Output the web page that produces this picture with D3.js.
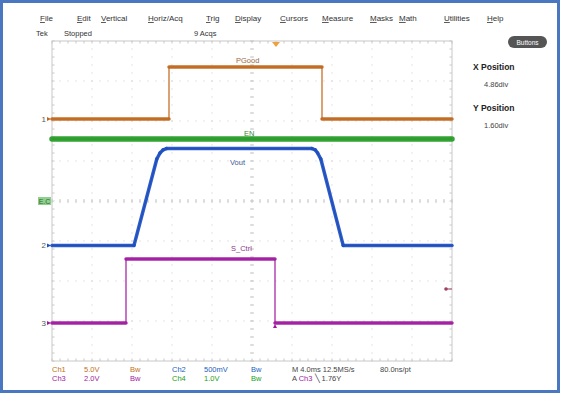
<!DOCTYPE html>
<html><head><meta charset="utf-8">
<script src="https://cdn.jsdelivr.net/npm/d3@7"></script>
<style>
html,body{margin:0;padding:0;background:#fff;}
svg{display:block;font-family:"Liberation Sans",Arial,sans-serif;}
</style></head>
<body>
<svg id="c" width="561" height="393"></svg>
<script>
// ---- data (time in divisions 0..10, level in divisions from screen centre) ----
const menuItems = ["File","Edit","Vertical","Horiz/Acq","Trig","Display","Cursors","Measure","Masks","Math","Utilities","Help"];
const menuX     = [40,77,101,148,206,235,280,322,370,399,444,487];

const ch1Time = [0, 2.925, 2.925, 6.75, 6.75, 10];       // PGood
const ch1Val  = [2.05, 2.05, 3.35, 3.35, 2.05, 2.05];
const ch4Time = [0, 10];                                  // EN
const ch4Val  = [1.55, 1.55];
const ch2Time = [0, 2.05, 2.62, 2.7, 2.78, 2.86, 6.5, 6.58, 6.64, 6.72, 7.28, 10]; // Vout
const ch2Val  = [-1.11, -1.11, 1.05, 1.2, 1.28, 1.31, 1.31, 1.28, 1.2, 1.05, -1.11, -1.11];
const ch3Time = [0, 1.85, 1.85, 5.575, 5.575, 10];       // S_Ctrl
const ch3Val  = [-3.05, -3.05, -1.45, -1.45, -3.05, -3.05];

const channelNames  = ["PGood","EN","Vout","S_Ctrl"];
const statusRow1 = [["Ch1",52,"#c07020"],["5.0V",84,"#c07020"],["Bw",130,"#c07020"],["Ch2",172,"#2060c0"],["500mV",204,"#2060c0"],["Bw",251,"#2060c0"],["M 4.0ms 12.5MS/s",292,"#444"],["80.0ns/pt",380,"#444"]];
const statusRow2 = [["Ch3",52,"#a020a0"],["2.0V",84,"#a020a0"],["Bw",130,"#a020a0"],["Ch4",172,"#20a020"],["1.0V",204,"#20a020"],["Bw",251,"#20a020"]];

// ---- layout ----
const svg = d3.select("#c");
const gx0 = 52, gx1 = 452, gy0 = 41, gy1 = 361;
const x = d3.scaleLinear().domain([0,10]).range([gx0,gx1]);
const y = d3.scaleLinear().domain([-4,4]).range([gy1,gy0]);
const gridCol = "#c8c8c8";

// frame
svg.append("rect").attr("x",1.5).attr("y",1.5).attr("width",557).attr("height",390)
  .attr("fill","#fff").attr("stroke","#4a78c0").attr("stroke-width",3);

// menu bar
menuItems.forEach((m,i)=>{
  const t = svg.append("text").attr("x",menuX[i]).attr("y",21).attr("font-size",8).attr("fill","#333");
  t.append("tspan").attr("text-decoration","underline").text(m[0]);
  t.append("tspan").text(m.slice(1));
});
svg.append("text").attr("x",36).attr("y",36).attr("font-size",7.5).attr("fill","#333").text("Tek");
svg.append("text").attr("x",64).attr("y",36).attr("font-size",7.5).attr("fill","#333").text("Stopped");
svg.append("text").attr("x",194).attr("y",36).attr("font-size",7.5).attr("fill","#333").text("9 Acqs");

// right panel
svg.append("rect").attr("x",508).attr("y",36).attr("width",39).attr("height",12).attr("rx",6)
  .attr("fill","#555");
svg.append("text").attr("x",527.5).attr("y",45).attr("text-anchor","middle").attr("font-size",6.5).attr("fill","#fff").text("Buttons");
svg.append("text").attr("x",473).attr("y",70).attr("font-size",8.5).attr("font-weight","bold").attr("fill","#222").text("X Position");
svg.append("text").attr("x",484).attr("y",87).attr("font-size",7.5).attr("fill","#444").text("4.86div");
svg.append("text").attr("x",473).attr("y",111).attr("font-size",8.5).attr("font-weight","bold").attr("fill","#222").text("Y Position");
svg.append("text").attr("x",484).attr("y",128).attr("font-size",7.5).attr("fill","#444").text("1.60div");

// graticule
const grid = svg.append("g");
grid.append("rect").attr("x",gx0).attr("y",gy0).attr("width",gx1-gx0).attr("height",gy1-gy0)
  .attr("fill","#fff").attr("stroke",gridCol).attr("stroke-width",1);
const minorX = d3.range(0,10.01,0.2), minorY = d3.range(-4,4.01,0.2);
d3.range(1,10).forEach(i=>{
  grid.selectAll(null).data(minorY).enter().append("rect")
    .attr("x",x(i)-0.5).attr("y",d=>y(d)-0.5).attr("width",1).attr("height",1).attr("fill",gridCol);
});
d3.range(-3,4).forEach(j=>{
  grid.selectAll(null).data(minorX).enter().append("rect")
    .attr("x",d=>x(d)-0.5).attr("y",y(j)-0.5).attr("width",1).attr("height",1).attr("fill",gridCol);
});
// centre and edge ticks
grid.selectAll(null).data(minorX).enter().append("line")
  .attr("x1",d=>x(d)).attr("x2",d=>x(d)).attr("y1",y(0)-2).attr("y2",y(0)+2).attr("stroke",gridCol);
grid.selectAll(null).data(minorX).enter().append("line")
  .attr("x1",d=>x(d)).attr("x2",d=>x(d)).attr("y1",gy0).attr("y2",gy0+2.5).attr("stroke",gridCol);
grid.selectAll(null).data(minorX).enter().append("line")
  .attr("x1",d=>x(d)).attr("x2",d=>x(d)).attr("y1",gy1).attr("y2",gy1-2.5).attr("stroke",gridCol);
grid.selectAll(null).data(minorY).enter().append("line")
  .attr("y1",d=>y(d)).attr("y2",d=>y(d)).attr("x1",x(5)-2).attr("x2",x(5)+2).attr("stroke",gridCol);
grid.selectAll(null).data(minorY).enter().append("line")
  .attr("y1",d=>y(d)).attr("y2",d=>y(d)).attr("x1",gx0).attr("x2",gx0+2.5).attr("stroke",gridCol);
grid.selectAll(null).data(minorY).enter().append("line")
  .attr("y1",d=>y(d)).attr("y2",d=>y(d)).attr("x1",gx1).attr("x2",gx1-2.5).attr("stroke",gridCol);

// traces
const line = d3.line().x(d=>x(d[0])).y(d=>y(d[1]));
const traces = [
  {t:ch4Time,v:ch4Val,c:"#249a24",w:5.5},
  {t:ch1Time,v:ch1Val,c:"#c0661a",w:3.5},
  {t:ch3Time,v:ch3Val,c:"#a0189e",w:3.5},
  {t:ch2Time,v:ch2Val,c:"#1d4fc0",w:3.5}
];
traces.forEach(tr=>{
  const pts = tr.t.map((t,i)=>[t,tr.v[i]]);
  svg.append("path").attr("d",line(pts)).attr("fill","none").attr("stroke",tr.c)
    .attr("stroke-width",1.2).attr("stroke-linejoin","round");
  for(let i=0;i<pts.length-1;i++){
    if(pts[i][0]===pts[i+1][0]) continue;
    svg.append("path").attr("d",line([pts[i],pts[i+1]])).attr("fill","none").attr("stroke",tr.c)
      .attr("stroke-width",tr.w).attr("stroke-linecap","round").attr("stroke-opacity",0.92);
  }
});

// trace labels
svg.append("text").attr("x",236).attr("y",63).attr("font-size",7.5).attr("fill","#9a6a40").text(channelNames[0]);
svg.append("text").attr("x",244).attr("y",136).attr("font-size",7.5).attr("fill","#3a8a3a").text(channelNames[1]);
svg.append("text").attr("x",230).attr("y",165).attr("font-size",7.5).attr("fill","#3a5a9a").text(channelNames[2]);
svg.append("text").attr("x",231).attr("y",251).attr("font-size",7.5).attr("fill","#8a3a8a").text(channelNames[3]);

// channel markers
[["1",ch1Val[0],"#c0661a"],["2",ch2Val[0],"#1d4fc0"],["3",ch3Val[0],"#a0189e"]].forEach(([n,v,c])=>{
  svg.append("text").attr("x",46).attr("y",y(v)+3).attr("text-anchor","end").attr("font-size",8).attr("fill","#555").text(n);
  svg.append("path").attr("d",`M${gx0-5},${y(v)-2}L${gx0-1},${y(v)}L${gx0-5},${y(v)+2}Z`).attr("fill",c);
});
svg.append("rect").attr("x",38).attr("y",197).attr("width",13).attr("height",8).attr("fill","#8fd08f");
svg.append("text").attr("x",44.5).attr("y",204).attr("text-anchor","middle").attr("font-size",7).attr("fill","#2a6a2a").text("E.C");

// trigger position marker (top) and level marker (right)
svg.append("path").attr("d",`M${x(5.6)-4},${gy0+1}L${x(5.6)+4},${gy0+1}L${x(5.6)},${gy0+6}Z`).attr("fill","#f0a040");
svg.append("path").attr("d",`M${x(5.575)-2},${y(-3.05)+5}L${x(5.575)+2},${y(-3.05)+5}L${x(5.575)},${y(-3.05)+1}Z`).attr("fill","#a0189e");
svg.append("line").attr("x1",445).attr("x2",452).attr("y1",y(-2.2)).attr("y2",y(-2.2)).attr("stroke","#a04060").attr("stroke-width",1);
svg.append("circle").attr("cx",446).attr("cy",y(-2.2)).attr("r",1.8).attr("fill","#a04060");

// status lines
statusRow1.forEach(([t,xx,c])=>svg.append("text").attr("x",xx).attr("y",372).attr("font-size",7.5).attr("fill",c).text(t));
statusRow2.forEach(([t,xx,c])=>svg.append("text").attr("x",xx).attr("y",381).attr("font-size",7.5).attr("fill",c).text(t));
const a = svg.append("text").attr("x",292).attr("y",381).attr("font-size",7.5).attr("fill","#444");
a.append("tspan").text("A ");
a.append("tspan").attr("fill","#a020a0").text("Ch3");
a.append("tspan").text("  \u2572  1.76Y");
</script>
</body></html>
